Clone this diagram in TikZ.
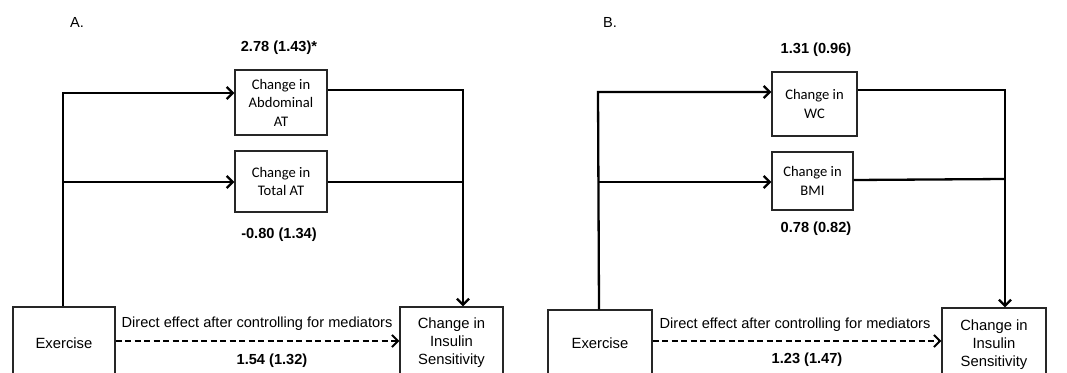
\documentclass[tikz,border=0pt]{standalone}
\usepackage{fontspec}
\setmainfont{Liberation Sans}
\newfontfamily\calfont{Carlito}
\usetikzlibrary{arrows.meta}
\begin{document}
\begin{tikzpicture}[x=1pt,y=-1pt,
  box/.style={draw=black!85,line width=1.3pt,inner sep=0pt,align=center,font=\fontsize{14.8}{18}\selectfont},
  medbox/.style={draw=black!85,line width=1.3pt,inner sep=0pt,align=center,font=\calfont\fontsize{14.6}{18.5}\selectfont},
  conn/.style={line width=2.3pt,-{Straight Barb[length=6pt,width=12pt,line width=2.3pt]}},
  plain/.style={line width=2.3pt},
  dasharrow/.style={line width=2pt,dash pattern=on 6pt off 3.5pt,-{Straight Barb[length=6pt,width=12pt,line width=2pt]}},
  lab/.style={font=\fontsize{14.6}{17}\selectfont,inner sep=0pt},
  num/.style={font=\bfseries\fontsize{14.6}{17}\selectfont,inner sep=0pt}]
\useasboundingbox (0,0) rectangle (1067,372);
\fill[white] (0,0) rectangle (1067,372);
\clip (0,0) rectangle (1067,372);

% ---------- Panel A ----------
\node[lab] (titA) at (77,22) {A.};
\node[box,minimum width=102pt,minimum height=72pt] (exA) at (64,343) {Exercise};
\node[box,minimum width=103pt,minimum height=72pt] (insA) at (451.5,343) {Change in\\Insulin\\Sensitivity};
\node[medbox,minimum width=92pt,minimum height=65pt] (abd) at (281,102.5) {Change in\\Abdominal\\AT};
\node[medbox,minimum width=92pt,minimum height=61pt] (tot) at (281,181.5) {Change in\\Total AT};
\node[num] (nA1) at (279,48) {2.78 (1.43)*};
\node[num] (nA2) at (279,235) {-0.80 (1.34)};
\node[lab] (dA) at (257,324) {Direct effect after  controlling for mediators};
\node[num] (nA3) at (272,361) {1.54 (1.32)};

\coordinate (lA1) at (63,93);
\coordinate (lA2) at (63,182);
\coordinate (rA1) at (463,90);
\coordinate (rA2) at (463,182);
\draw[conn] (exA.north -| lA1) -- (lA1) -- (abd.west |- lA1);
\draw[conn] (lA2) -- (tot.west |- lA2);
\draw[conn] (abd.east |- rA1) -- (rA1) -- (insA.north -| rA1);
\draw[plain] (tot.east |- rA2) -- (rA2);
\draw[dasharrow] (exA.east |- 0,341) -- (insA.west |- 0,341);

% ---------- Panel B ----------
\node[lab] (titB) at (610,22) {B.};
\node[box,minimum width=104pt,minimum height=66pt] (exB) at (600,343) {Exercise};
\node[box,minimum width=104pt,minimum height=74pt] (insB) at (994,345) {Change in\\Insulin\\Sensitivity};
\node[medbox,minimum width=85pt,minimum height=64pt] (wc) at (814.5,104) {Change in\\WC};
\node[medbox,minimum width=81pt,minimum height=58pt] (bmi) at (812.5,181) {Change in\\BMI};
\node[num] (nB1) at (816,50) {1.31 (0.96)};
\node[num] (nB2) at (816,229) {0.78 (0.82)};
\node[lab] (dB) at (795,325) {Direct effect after  controlling for mediators};
\node[num] (nB3) at (807,360) {1.23 (1.47)};

\coordinate (lB1) at (598,92);
\coordinate (lB2) at (598,182);
\coordinate (rB1) at (1005,90);
\coordinate (rB2) at (1005,179);
\draw[conn] (exB.north -| 599,0) -- (lB1) -- (wc.west |- lB1);
\draw[conn] (lB2) -- (bmi.west |- lB2);
\draw[conn] (wc.east |- rB1) -- (rB1) -- (insB.north -| rB1);
\draw[plain] (bmi.east |- 0,180) -- (rB2);
\draw[dasharrow] (exB.east |- 0,341) -- (insB.west |- 0,341);
\end{tikzpicture}
\end{document}
